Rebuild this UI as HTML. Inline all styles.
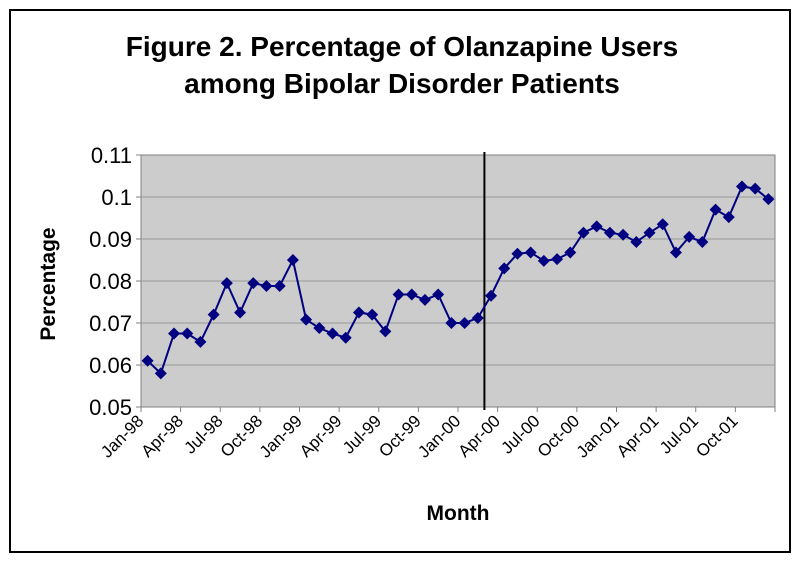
<!DOCTYPE html>
<html><head><meta charset="utf-8"><style>
html,body{margin:0;padding:0;background:#fff;}
svg{display:block;font-family:"Liberation Sans",Arial,sans-serif;}
</style></head><body>
<svg id="chart" width="800" height="561" viewBox="0 0 800 561">
<rect x="10" y="10" width="780" height="542" fill="#fff" stroke="#000" stroke-width="2"/>
<text x="402" y="56" text-anchor="middle" font-size="28" font-weight="bold">Figure 2. Percentage of Olanzapine Users</text>
<text x="402" y="93" text-anchor="middle" font-size="28" font-weight="bold">among Bipolar Disorder Patients</text>
<rect x="141" y="155" width="634" height="252" fill="#cccccc" stroke="#808080" stroke-width="1"/>
<g id="grid"></g><g id="yticks"></g><g id="xticks"></g><g id="series"></g>
<text transform="translate(55,284) rotate(-90)" text-anchor="middle" font-size="21" font-weight="bold">Percentage</text>
<text x="458" y="520" text-anchor="middle" font-size="21" font-weight="bold">Month</text>
</svg>
<script>
const values=[0.061,0.058,0.0675,0.0675,0.0655,0.072,0.0795,0.0725,0.0795,0.0788,0.0788,0.085,0.0708,0.0688,0.0675,0.0665,0.0725,0.072,0.068,0.0768,0.0768,0.0755,0.0768,0.070,0.070,0.0712,0.0765,0.083,0.0865,0.0868,0.0848,0.0852,0.0868,0.0915,0.093,0.0915,0.091,0.0893,0.0915,0.0935,0.0868,0.0905,0.0893,0.097,0.0952,0.1025,0.1020,0.0995];
const xLabels=["Jan-98","Apr-98","Jul-98","Oct-98","Jan-99","Apr-99","Jul-99","Oct-99","Jan-00","Apr-00","Jul-00","Oct-00","Jan-01","Apr-01","Jul-01","Oct-01"];
const yTicks=[0.05,0.06,0.07,0.08,0.09,0.1,0.11];
const markerLineIndex=26;
const NS="http://www.w3.org/2000/svg";
const L=141,R=775,T=155,B=407,yMin=0.05,yMax=0.11;
const n=values.length,bw=(R-L)/n;
const xc=i=>L+bw*(i+0.5), xb=i=>L+bw*i;
const y=v=>B-(v-yMin)/(yMax-yMin)*(B-T);
function mk(tag,attrs,parent){const e=document.createElementNS(NS,tag);for(const k in attrs)e.setAttribute(k,attrs[k]);document.getElementById(parent).appendChild(e);return e;}
yTicks.forEach(t=>{
  if(t>yMin&&t<yMax){const g=mk('line',{x1:L,x2:R,y1:y(t),y2:y(t),stroke:'#999999','stroke-width':1},'grid');
  
  }
  const tk=mk('line',{x1:L-5,x2:L,y1:y(t),y2:y(t),stroke:'#808080'},'yticks');
  
  
  const tx=mk('text',{x:L-9,y:y(t)+8,'text-anchor':'end','font-size':22},'yticks');
  tx.textContent=String(t);
  
  
});
for(let i=0;i<=n;i+=3){
  const tk=mk('line',{x1:xb(i),x2:xb(i),y1:B,y2:B+5,stroke:'#808080'},'xticks');
  
  
}
xLabels.forEach((lab,k)=>{
  const i=k*3,px=xc(i)-3,py=B+15;
  const tx=mk('text',{x:px,y:py,'text-anchor':'end','font-size':17,transform:`rotate(-45 ${px} ${py})`},'xticks');
  tx.textContent=lab;
  
  
});
const vl=mk('line',{x1:xb(markerLineIndex),x2:xb(markerLineIndex),y1:T-3,y2:B+3,stroke:'#000','stroke-width':2},'series');


const pl=mk('polyline',{points:values.map((v,i)=>xc(i)+','+y(v)).join(' '),fill:'none',stroke:'#000080','stroke-width':2},'series');


values.forEach((v,i)=>{
  const cx=xc(i),cy=y(v),s=6;
  const p=mk('polygon',{points:`${cx},${cy-s} ${cx+s},${cy} ${cx},${cy+s} ${cx-s},${cy}`,fill:'#000080'},'series');
  
  
});
</script>
</body></html>
